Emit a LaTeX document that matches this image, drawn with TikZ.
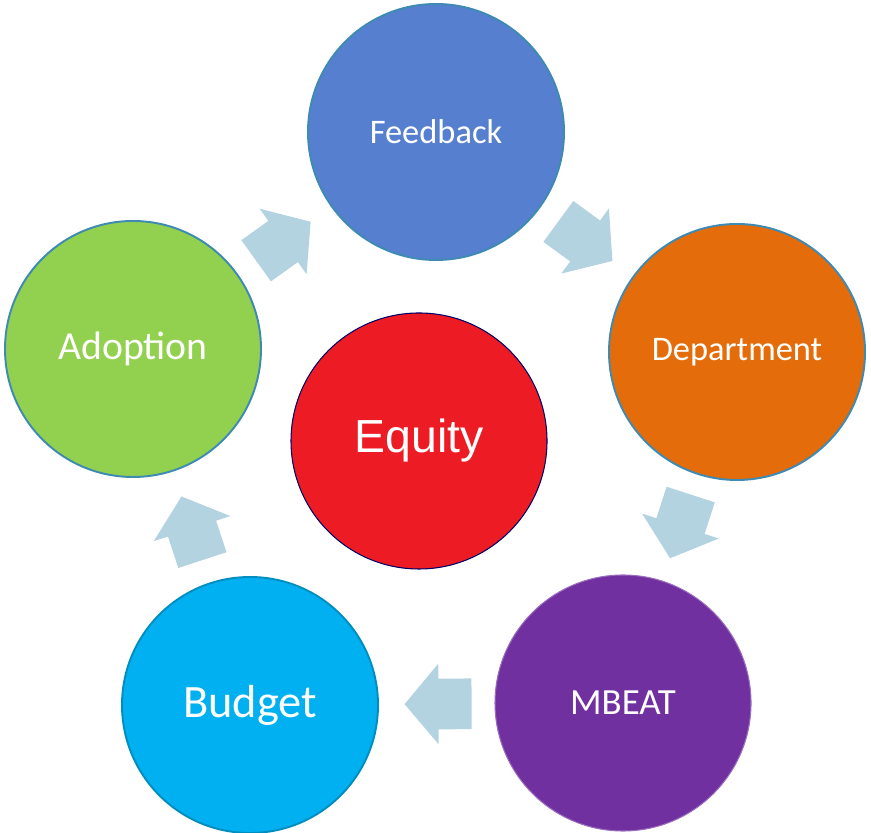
\documentclass[tikz,border=0pt]{standalone}
\usepackage{fontspec}
\setmainfont{Carlito}
\newfontfamily\arialfont{Liberation Sans}
\usetikzlibrary{shapes.arrows}
\definecolor{fbblue}{RGB}{86,128,207}
\definecolor{deporange}{RGB}{228,108,10}
\definecolor{adgreen}{RGB}{146,208,80}
\definecolor{mbpurple}{RGB}{112,48,160}
\definecolor{budblue}{RGB}{0,176,240}
\definecolor{eqred}{RGB}{237,28,36}
\definecolor{ringteal}{RGB}{62,138,178}
\definecolor{arrowblue}{RGB}{180,211,225}

\begin{document}
\begin{tikzpicture}[
	bubble/.style={circle, minimum size=5.12cm, inner sep=0pt, line width=1.1pt, draw=ringteal, text=white},
	flow/.style={single arrow, fill=arrowblue, draw=none, sloped, allow upside down, xshift=-0.24cm,
		minimum height=1.34cm, inner xsep=0pt, inner ysep=0.5cm,
		single arrow head extend=0.3cm, single arrow tip angle=100}]
		\useasboundingbox (0,0) rectangle (17.42,16.64);
		\node[bubble, fill=fbblue] (feedback) at (8.72,14.00) {\fontsize{19.6}{24}\selectfont Feedback};
		\node[bubble, fill=deporange] (department) at (14.74,9.60) {\fontsize{19.6}{24}\selectfont Department};
		\node[bubble, fill=mbpurple, draw=mbpurple!70!white, line width=0.6pt] (mbeat) at (12.46,2.58) {\fontsize{21}{25}\selectfont MBEAT};
		\node[bubble, fill=budblue, draw=budblue!80!black] (budget) at (5.00,2.54) {\fontsize{26.4}{31}\selectfont Budget};
		\node[bubble, fill=adgreen] (adoption) at (2.66,9.66) {\fontsize{22.6}{27}\selectfont Adoption};
		\node[bubble, fill=eqred, draw=blue!40!black, line width=0.6pt] (equity) at (8.38,7.82) {\arialfont\fontsize{26.4}{31}\selectfont Equity};
		\path (adoption) -- node[flow] (a1) {} (feedback);
		\path (feedback) -- node[flow] (a2) {} (department);
		\path (department) -- node[flow] (a3) {} (mbeat);
		\path (mbeat) -- node[flow] (a4) {} (budget);
		\path (budget) -- node[flow] (a5) {} (adoption);
	\end{tikzpicture}
\end{document}
